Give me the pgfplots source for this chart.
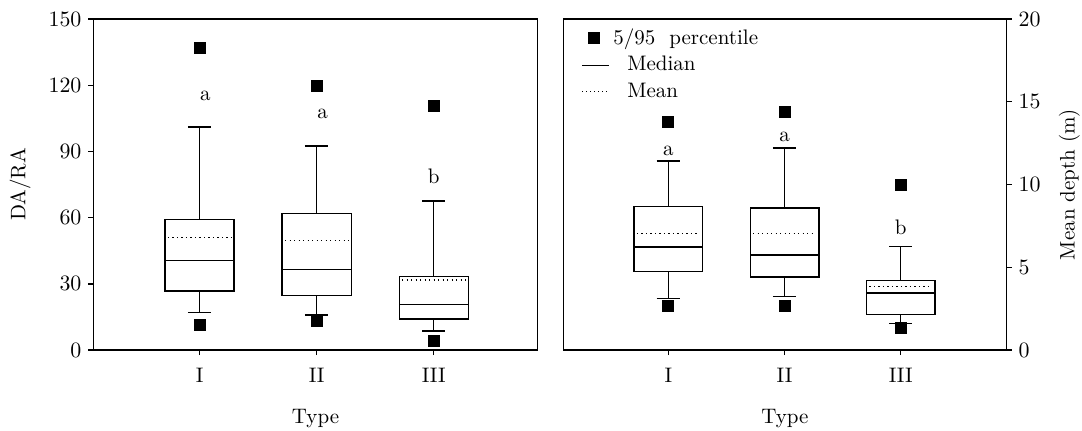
\documentclass[border=0pt]{standalone}
\usepackage{pgfplots}
\pgfplotsset{compat=1.18}
\usepgfplotslibrary{statistics}
\begin{document}
\begin{tikzpicture}
\pgfplotsset{
  every axis/.append style={font=\fontsize{10.5}{12.6}\selectfont},
  panel/.style={
    scale only axis, height=165.5pt,
    ymin=0, clip=false,
    axis line style={line width=0.8pt},
    every tick/.style={black, line width=0.7pt},
    tick align=outside, major tick length=2.5pt,
    xtick={1,2,3}, xticklabels={I,II,III}, xtick pos=bottom,
    xticklabel style={yshift=-3pt},
    xlabel={Type},
    xlabel style={at={(axis description cs:0.5,-0.208)}, anchor=center},
    boxplot/draw direction=y,
  },
  bx/.style={black, line width=0.7pt, solid, mark=none,
    boxplot/draw direction=y,
    boxplot/box extend=0.59, boxplot/whisker extend=0.2},
  meanline/.style={black, line width=0.65pt, dash pattern=on 0.65pt off 1.6pt},
  pct/.style={black, only marks, mark=square*, mark size=2.75pt},
  sqleg/.style={legend image code/.code={\draw[##1] plot coordinates {(0.2cm,0cm)};}},
  lnleg/.style={legend image code/.code={\draw[##1] (0cm,0cm) -- (0.47cm,0cm);}},
}
% ---------------- left panel ----------------
\begin{axis}[panel, at={(46.75pt,-175pt)}, anchor=south west, width=222pt,
  xmin=0.094, xmax=3.886, ymax=150, ytick={0,30,60,90,120,150}, ytick pos=left,
  ylabel={DA/RA},
  ylabel style={at={(axis description cs:-0.165,0.5)}, anchor=center},
]
\addplot[bx, boxplot prepared={draw position=1, lower whisker=16.9, lower quartile=26.7, median=40.6, upper quartile=59.2, upper whisker=101}] coordinates {};
\addplot[bx, boxplot prepared={draw position=2, lower whisker=15.9, lower quartile=24.6, median=36.6, upper quartile=61.8, upper whisker=92.4}] coordinates {};
\addplot[bx, boxplot prepared={draw position=3, lower whisker=8.6, lower quartile=14.0, median=20.7, upper quartile=33.4, upper whisker=67.5}] coordinates {};
\addplot[meanline] coordinates {(0.73,51.1) (1.27,51.1)};
\addplot[meanline] coordinates {(1.73,49.5) (2.27,49.5)};
\addplot[meanline] coordinates {(2.73,31.7) (3.27,31.7)};
\addplot[pct] coordinates {(1,136.7) (1,11.3) (2,119.6) (2,13.3) (3,110.6) (3,4.1)};
\node at (axis cs:1.05,115) {a};
\node at (axis cs:2.05,106.8) {a};
\node at (axis cs:3.0,78.9) {b};
\end{axis}
% ---------------- right panel ----------------
\begin{axis}[panel, at={(281.65pt,-175pt)}, anchor=south west, width=221.6pt,
  xmin=0.096, xmax=3.91, ymax=20, ytick={0,5,10,15,20}, ytick pos=right,
  yticklabel pos=right,
  ylabel={Mean depth (m)},
  ylabel style={at={(axis description cs:1.142,0.5)}, anchor=center},
  legend style={at={(0.04,0.985)}, anchor=north west, draw=none, fill=none,
    row sep=0.6pt, inner sep=0pt, font=\fontsize{10.5}{12.6}\selectfont},
  legend cell align=left,
]
\addlegendimage{pct, sqleg}
\addlegendentry{5/95\ \ percentile}
\addlegendimage{black, line width=0.6pt, lnleg}
\addlegendentry{\hspace*{7pt}Median}
\addlegendimage{black, line width=0.4pt, dash pattern=on 0.4pt off 1.6pt, lnleg}
\addlegendentry{\hspace*{7pt}Mean}
\addplot[bx, forget plot, boxplot prepared={draw position=1, lower whisker=3.1, lower quartile=4.74, median=6.23, upper quartile=8.67, upper whisker=11.43}] coordinates {};
\addplot[bx, forget plot, boxplot prepared={draw position=2, lower whisker=3.23, lower quartile=4.42, median=5.75, upper quartile=8.57, upper whisker=12.2}] coordinates {};
\addplot[bx, forget plot, boxplot prepared={draw position=3, lower whisker=1.61, lower quartile=2.16, median=3.45, upper quartile=4.21, upper whisker=6.25}] coordinates {};
\addplot[meanline, forget plot] coordinates {(0.73,7.04) (1.27,7.04)};
\addplot[meanline, forget plot] coordinates {(1.73,7.04) (2.27,7.04)};
\addplot[meanline, forget plot] coordinates {(2.73,3.83) (3.27,3.83)};
\addplot[pct, forget plot] coordinates {(1,13.8) (1,2.66) (2,14.4) (2,2.68) (3,10.0) (3,1.31)};
\node at (axis cs:1,12.0) {a};
\node at (axis cs:2,12.9) {a};
\node at (axis cs:3,7.44) {b};
\end{axis}
\pgfresetboundingbox
\path[use as bounding box] (0pt,0pt) rectangle (541pt,-215pt);
\end{tikzpicture}
\end{document}
